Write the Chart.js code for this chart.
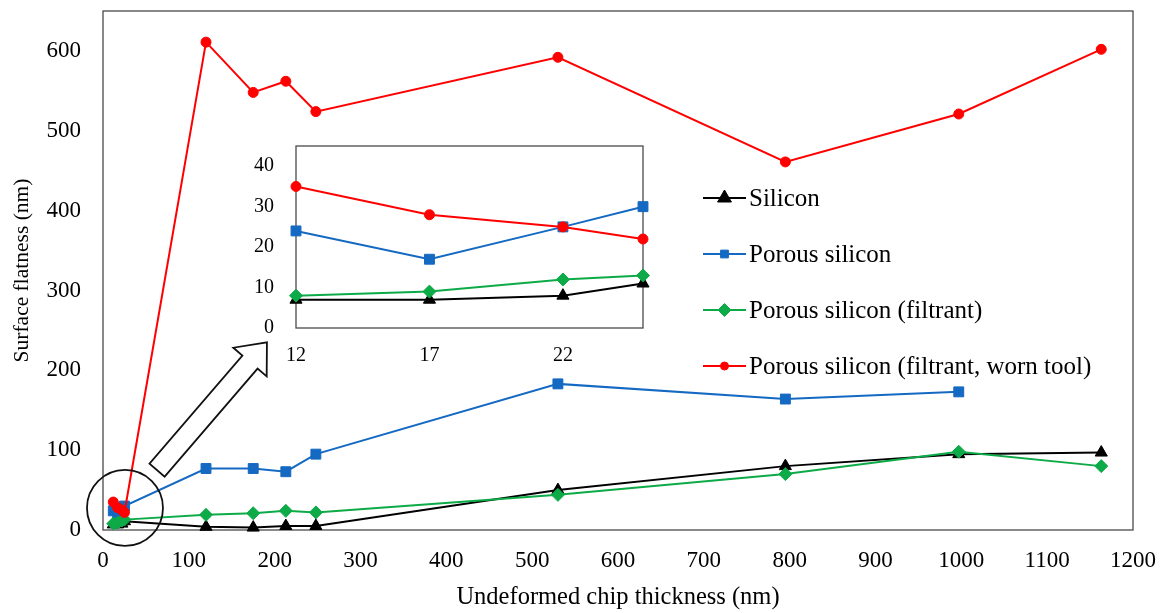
<!DOCTYPE html>
<html>
<head>
<meta charset="utf-8">
<script src="https://cdn.jsdelivr.net/npm/chart.js@4/dist/chart.umd.min.js"></script>
<style>
  html, body { margin: 0; padding: 0; background: #fff; }
  #wrap { position: relative; width: 1164px; height: 613px; }
  #main { position: absolute; left: 0; top: 0; }
  #inset { position: absolute; left: 230px; top: 130px; }
</style>
</head>
<body>
<div id="wrap">
  <canvas id="main" width="1164" height="613"></canvas>
  <canvas id="inset" width="430" height="250"></canvas>
</div>
<script>
// ---------- data ----------
const seriesNames = ["Silicon", "Porous silicon", "Porous silicon (filtrant)", "Porous silicon (filtrant, worn tool)"];
const chipThickness = [12, 17, 22, 25, 120, 175, 213, 248, 530, 795, 997, 1163];
const siliconFlatness = [7, 7, 8, 11, 4, 3, 5, 5, 50, 80, 95, 97];
const porousFlatness = [24, 17, 25, 30, 77, 77, 73, 95, 183, 164, 173];
const filtrantFlatness = [8, 9, 12, 13, 19, 21, 24, 22, 44, 70, 98, 80];
const wornToolFlatness = [35, 28, 25, 22, 611, 548, 562, 524, 592, 461, 521, 602];

const mainXTicks = [0, 100, 200, 300, 400, 500, 600, 700, 800, 900, 1000, 1100, 1200];
const mainYTicks = [0, 100, 200, 300, 400, 500, 600];
const insetXTicks = [12, 17, 22];
const insetYTicks = [0, 10, 20, 30, 40];
const insetPointCount = 4;

// ---------- styles ----------
const FONT = '"Liberation Serif", "Times New Roman", serif';
const colors = ['#000000', '#1469C2', '#0DAA48', '#FF0000'];
const pointStyles = ['triangle', 'rect', 'rectRot', 'circle'];
const pointRadii = [7, 7, 6.5, 5];
const legendRadii = [8, 5.5, 6.5, 4];
const allSeries = [siliconFlatness, porousFlatness, filtrantFlatness, wornToolFlatness];

function makeDatasets(count) {
  return allSeries.map((ys, i) => {
    const n = count ? Math.min(count, ys.length) : ys.length;
    const pts = [];
    for (let k = 0; k < n; k++) pts.push({ x: chipThickness[k], y: ys[k] });
    return {
      label: seriesNames[i],
      data: pts,
      borderColor: colors[i],
      backgroundColor: colors[i],
      pointBackgroundColor: colors[i],
      pointBorderColor: colors[i],
      pointStyle: pointStyles[i],
      pointRadius: pointRadii[i],
      pointBorderWidth: 1,
      borderWidth: 2,
      tension: 0,
      clip: false,
      order: 3 - i
    };
  });
}

function fixBox(size, horizontal) {
  return function (s) {
    if (horizontal) s.height = size; else s.width = size;
    s.paddingTop = 0; s.paddingBottom = 0; s.paddingLeft = 0; s.paddingRight = 0;
  };
}
const plainLabel = v => String(v);

const framePlugin = {
  id: 'frame',
  beforeDatasetsDraw(chart, args, opts) {
    const a = chart.chartArea, c = chart.ctx;
    c.save();
    if (opts.fill) { c.fillStyle = '#fff'; c.fillRect(a.left, a.top, a.right - a.left, a.bottom - a.top); }
    c.strokeStyle = '#4a4a4a';
    c.lineWidth = 1.3;
    c.strokeRect(a.left, a.top, a.right - a.left, a.bottom - a.top);
    c.restore();
  }
};

const decorPlugin = {
  id: 'decor',
  afterDatasetsDraw(chart, args, opts) {
    const c = chart.ctx, xs = chart.scales.x, ys = chart.scales.y;
    c.save();
    c.strokeStyle = '#111';
    c.lineWidth = 1.8;
    const cx = xs.getPixelForValue(opts.circle.x), cy = ys.getPixelForValue(opts.circle.y);
    c.beginPath(); c.arc(cx, cy, opts.circle.r, 0, Math.PI * 2); c.stroke();
    const tx = xs.getPixelForValue(opts.arrow.from.x), ty = ys.getPixelForValue(opts.arrow.from.y);
    const hx = xs.getPixelForValue(opts.arrow.to.x), hy = ys.getPixelForValue(opts.arrow.to.y);
    const dx = hx - tx, dy = hy - ty, L = Math.hypot(dx, dy);
    const ux = dx / L, uy = dy / L, nx = -uy, ny = ux;
    const sw = opts.arrow.shaft, hw = opts.arrow.head, hl = opts.arrow.headLen;
    const bx = hx - ux * hl, by = hy - uy * hl;
    const pts = [
      [tx + nx * sw, ty + ny * sw],
      [bx + nx * sw, by + ny * sw],
      [bx + nx * hw, by + ny * hw],
      [hx, hy],
      [bx - nx * hw, by - ny * hw],
      [bx - nx * sw, by - ny * sw],
      [tx - nx * sw, ty - ny * sw]
    ];
    c.beginPath();
    pts.forEach((p, i) => i ? c.lineTo(p[0], p[1]) : c.moveTo(p[0], p[1]));
    c.closePath();
    c.fillStyle = '#fff'; c.fill();
    c.stroke();
    c.restore();
  }
};

const legendPlugin = {
  id: 'floatLegend',
  afterDraw(chart, args, opts) {
    const c = chart.ctx;
    c.save();
    chart.data.datasets.forEach((ds, i) => {
      const y = opts.top + i * opts.gap;
      c.strokeStyle = ds.borderColor; c.lineWidth = 2;
      c.beginPath(); c.moveTo(opts.lineX0, y); c.lineTo(opts.lineX1, y); c.stroke();
      c.fillStyle = ds.backgroundColor; c.strokeStyle = ds.borderColor; c.lineWidth = 1;
      Chart.helpers.drawPoint(c, { pointStyle: ds.pointStyle, radius: legendRadii[i], borderWidth: 1 }, (opts.lineX0 + opts.lineX1) / 2, y);
      c.fillStyle = '#000';
      c.font = opts.fontSize + 'px ' + FONT;
      c.textBaseline = 'middle'; c.textAlign = 'left';
      c.fillText(ds.label, opts.textX, y + 1);
    });
    c.restore();
  }
};

// ---------- main chart ----------
new Chart(document.getElementById('main'), {
  type: 'line',
  data: { datasets: makeDatasets(0) },
  options: {
    responsive: false, animation: false,
    layout: { padding: { top: 11, right: 31, left: 0, bottom: 0 } },
    plugins: {
      legend: { display: false }, tooltip: { enabled: false },
      frame: { fill: false },
      decor: {
        circle: { x: 25.6, y: 27.6, r: 38 },
        arrow: { from: { x: 63, y: 75 }, to: { x: 191, y: 235 }, shaft: 10, head: 22, headLen: 26 }
      },
      floatLegend: { top: 198, gap: 56, lineX0: 703, lineX1: 746, textX: 749, fontSize: 25 }
    },
    scales: {
      x: {
        type: 'linear', min: 0, max: 1200,
        afterBuildTicks(s) { s.ticks = mainXTicks.map(v => ({ value: v })); },
        afterFit: fixBox(83, true),
        ticks: { font: { family: FONT, size: 23 }, color: '#000', padding: 17, maxRotation: 0, autoSkip: false, callback: plainLabel },
        grid: { display: false, drawTicks: false },
        border: { display: false },
        title: { display: true, text: 'Undeformed chip thickness (nm)', font: { family: FONT, size: 24.5 }, color: '#000', padding: { top: 0, bottom: 1 } }
      },
      y: {
        min: 0, max: 650,
        afterBuildTicks(s) { s.ticks = mainYTicks.map(v => ({ value: v })); },
        afterFit: fixBox(103, false),
        ticks: { font: { family: FONT, size: 23 }, color: '#000', padding: 22, callback: plainLabel },
        grid: { display: false, drawTicks: false },
        border: { display: false },
        title: { display: true, text: 'Surface flatness (nm)', font: { family: FONT, size: 21.5 }, color: '#000', padding: { top: 9, bottom: 0 } }
      }
    }
  },
  plugins: [framePlugin, decorPlugin, legendPlugin]
});

// ---------- inset chart ----------
new Chart(document.getElementById('inset'), {
  type: 'line',
  data: { datasets: makeDatasets(insetPointCount) },
  options: {
    responsive: false, animation: false,
    layout: { padding: { top: 16, right: 17, left: 0, bottom: 0 } },
    plugins: { legend: { display: false }, tooltip: { enabled: false }, frame: { fill: true } },
    scales: {
      x: {
        type: 'linear', min: 12, max: 25,
        afterBuildTicks(s) { s.ticks = insetXTicks.map(v => ({ value: v })); },
        afterFit: fixBox(52, true),
        ticks: { font: { family: FONT, size: 20 }, color: '#000', padding: 16, maxRotation: 0, autoSkip: false, callback: plainLabel },
        grid: { display: false, drawTicks: false },
        border: { display: false }
      },
      y: {
        min: 0, max: 45,
        afterBuildTicks(s) { s.ticks = insetYTicks.map(v => ({ value: v })); },
        afterFit: fixBox(66, false),
        ticks: { font: { family: FONT, size: 20 }, color: '#000', padding: 22, callback: plainLabel },
        grid: { display: false, drawTicks: false },
        border: { display: false }
      }
    }
  },
  plugins: [framePlugin]
});
</script>
</body>
</html>
